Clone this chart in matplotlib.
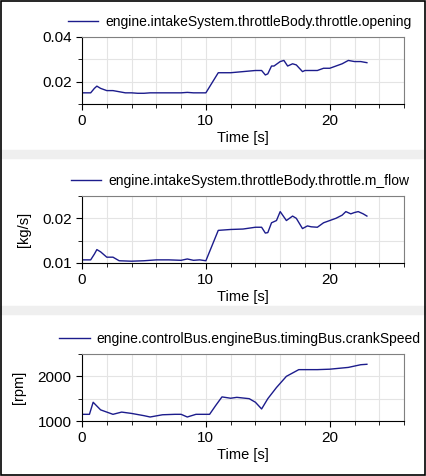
import matplotlib
matplotlib.use("Agg")
import matplotlib.pyplot as plt
from matplotlib.patches import Rectangle
from matplotlib.ticker import MultipleLocator

plt.rcParams['font.family'] = ['Liberation Sans', 'DejaVu Sans']

t_open = [0, 0.7, 1.0, 1.2, 1.5, 2, 2.5, 3, 3.5, 4, 4.5, 5, 5.5, 6, 7, 8, 8.5, 9, 10, 10.5, 11, 12, 13, 14, 14.5, 14.8, 15, 15.3, 15.5, 16, 16.3, 16.6, 17, 17.3, 17.8, 18, 18.5, 19, 19.5, 20, 20.5, 21, 21.5, 22, 22.5, 23]
opening = [0.015, 0.015, 0.017, 0.018, 0.017, 0.016, 0.016, 0.0155, 0.015, 0.015, 0.0148, 0.0148, 0.015, 0.015, 0.015, 0.015, 0.0152, 0.015, 0.015, 0.0195, 0.024, 0.024, 0.0245, 0.025, 0.025, 0.023, 0.0235, 0.027, 0.027, 0.029, 0.0295, 0.027, 0.028, 0.0275, 0.0245, 0.025, 0.025, 0.025, 0.026, 0.026, 0.027, 0.028, 0.0295, 0.029, 0.029, 0.0285]

t_flow = [0, 0.7, 1.0, 1.2, 1.5, 2, 2.5, 3, 4, 5, 6, 7, 8, 8.5, 9, 9.5, 10, 11, 12, 13, 14, 14.5, 14.8, 15, 15.3, 15.7, 16, 16.5, 17, 17.3, 17.8, 18.2, 18.5, 19, 19.5, 20, 20.5, 21, 21.3, 21.7, 22, 22.3, 22.7, 23]
m_flow = [0.0107, 0.0107, 0.012, 0.013, 0.0125, 0.0113, 0.0113, 0.0105, 0.0104, 0.0105, 0.0107, 0.0107, 0.0106, 0.0109, 0.0106, 0.0107, 0.0105, 0.0173, 0.0175, 0.0176, 0.018, 0.018, 0.0167, 0.0168, 0.019, 0.0195, 0.0215, 0.0195, 0.0205, 0.02, 0.0177, 0.0183, 0.0181, 0.018, 0.019, 0.0195, 0.02, 0.0207, 0.0215, 0.021, 0.0213, 0.0215, 0.021, 0.0205]

t_crank = [0, 0.6, 0.9, 1.5, 2, 2.5, 3.2, 4, 5, 5.5, 6.5, 7.5, 8, 8.5, 9.2, 10.3, 10.8, 11.3, 12, 12.5, 13.5, 14, 14.5, 15, 15.7, 16.5, 17.5, 19, 20, 21.5, 22.5, 23]
crank = [1150, 1150, 1420, 1250, 1200, 1150, 1200, 1170, 1120, 1090, 1140, 1150, 1150, 1090, 1150, 1150, 1350, 1540, 1510, 1530, 1500, 1420, 1270, 1500, 1750, 2000, 2150, 2150, 2160, 2200, 2260, 2270]

labels = ["engine.intakeSystem.throttleBody.throttle.opening",
          "engine.intakeSystem.throttleBody.throttle.m_flow",
          "engine.controlBus.engineBus.timingBus.crankSpeed"]
ylabels = ["", "[kg/s]", "[rpm]"]
ylims = [(0.01, 0.04), (0.01, 0.025), (1000, 2500)]
ymajor = [0.02, 0.01, 1000]
yminor = [0.01, 0.005, 500]
bottoms = [0.7815, 0.4475, 0.1155]

fig = plt.figure(figsize=(4.26, 4.76), dpi=100)
fig.patches.append(Rectangle((0, 1 - 158/476), 1, 8/476, transform=fig.transFigure, color="#efefef", zorder=0))
fig.patches.append(Rectangle((0, 1 - 314/476), 1, 8/476, transform=fig.transFigure, color="#efefef", zorder=0))
fig.patches.append(Rectangle((0.002, 0.002), 0.996, 0.996, transform=fig.transFigure, fill=False, edgecolor="black", lw=1.2, zorder=5))

data = [(t_open, opening), (t_flow, m_flow), (t_crank, crank)]
for i, (t, y) in enumerate(data):
    ax = fig.add_axes([0.1925, bottoms[i], 0.756, 0.1408])
    ax.plot(t, y, color="#1c1c8c", lw=1.0, label=labels[i])
    ax.set_xlim(0, 26)
    ax.set_ylim(*ylims[i])
    ax.xaxis.set_major_locator(MultipleLocator(10))
    ax.xaxis.set_minor_locator(MultipleLocator(2))
    ax.yaxis.set_major_locator(MultipleLocator(ymajor[i]))
    ax.yaxis.set_minor_locator(MultipleLocator(yminor[i]))
    ax.grid(which="both", color="#e4e4e4", lw=0.8)
    ax.set_axisbelow(True)
    ax.tick_params(which="both", direction="out", length=3, labelsize=11)
    ax.tick_params(which="major", length=4)
    ax.set_xlabel("Time [s]", fontsize=10.5, labelpad=2)
    if ylabels[i]:
        ax.set_ylabel(ylabels[i], fontsize=10.5, labelpad=8)
    for s in ("top", "right"):
        ax.spines[s].set_color("#808080")
    ax.legend(loc="lower center", bbox_to_anchor=(0.49, 1.0), frameon=False,
              fontsize=10, handlelength=2.2, handletextpad=0.5, borderaxespad=0.2)
    if i == 0:
        ax.set_yticks([0.02, 0.04])

fig.savefig("out.png", dpi=100)
